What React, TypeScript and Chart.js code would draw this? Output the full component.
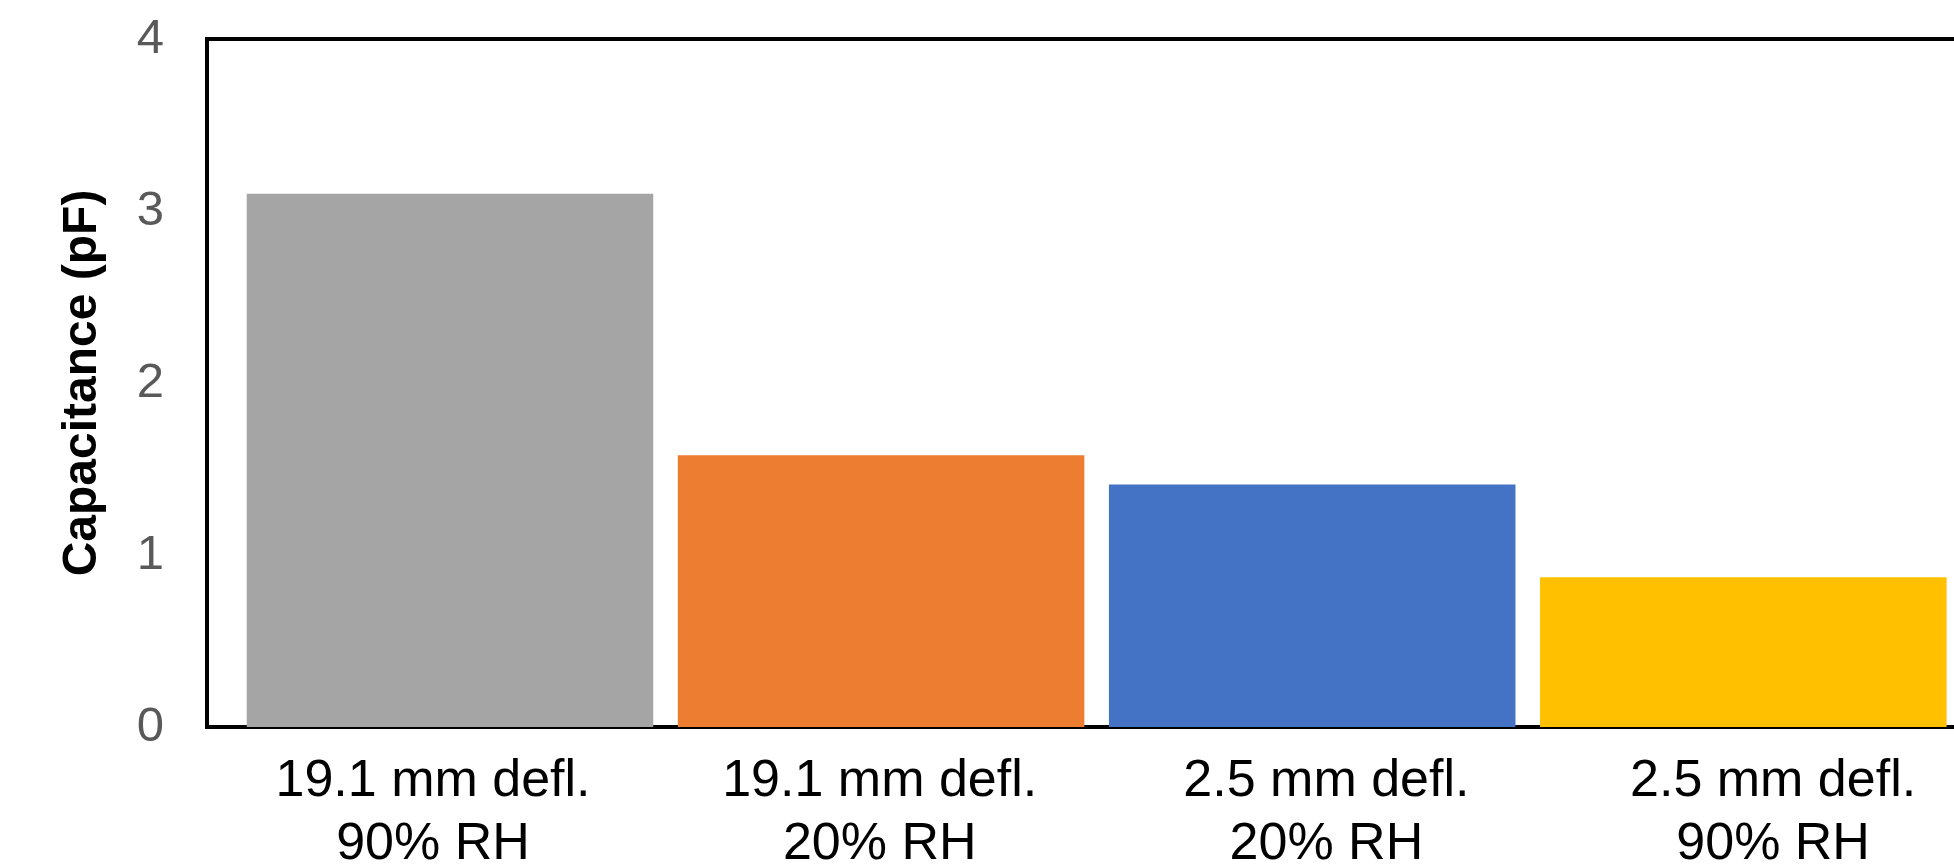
import React, { useEffect, useRef } from "react";
import { Chart, registerables } from "chart.js";

Chart.register(...registerables);

// Category labels (two lines each) and measured capacitance per condition
const categories: string[][] = [
  ["19.1 mm defl.", "90% RH"],
  ["19.1 mm defl.", "20% RH"],
  ["2.5 mm defl.", "20% RH"],
  ["2.5 mm defl.", "90% RH"],
];
const capacitance: number[] = [3.1, 1.58, 1.41, 0.87];
const barColors: string[] = ["#A5A5A5", "#ED7D31", "#4472C4", "#FFC000"];
const yTicks: number[] = [0, 1, 2, 3, 4];
const yTitle = "Capacitance (pF)";

const FONT = "'Liberation Sans', Arial, sans-serif";

// one tick per category index
const categoryTicks = (scale: any) => {
  scale.ticks = categories.map((_, i) => ({ value: i }));
};

export default function App() {
  const canvasRef = useRef<HTMLCanvasElement>(null);

  useEffect(() => {
    if (!canvasRef.current) return;
    const chart = new Chart(canvasRef.current, {
      type: "bar",
      data: {
        datasets: [
          {
            xAxisID: "xBars",
            data: capacitance.map((v, i) => ({ x: i, y: v })),
            backgroundColor: barColors,
            borderWidth: 0,
            categoryPercentage: 1,
            barPercentage: 0.943,
          },
        ],
      },
      options: {
        responsive: false,
        animation: false,
        devicePixelRatio: 1,
        layout: { padding: { left: 50, top: 39, right: 0, bottom: 0 } },
        plugins: {
          legend: { display: false },
          tooltip: { enabled: false },
        },
        scales: {
          // position scale of the bars (not drawn)
          xBars: {
            type: "linear",
            axis: "x",
            position: "bottom",
            display: false,
            offset: false,
            min: -0.5636,
            max: 3.6,
            grid: { offset: false },
            afterBuildTicks: categoryTicks,
          },
          // category label axis with the bottom frame line
          x: {
            type: "linear",
            axis: "x",
            position: "bottom",
            offset: false,
            min: -0.5059,
            max: 3.5124,
            grid: { display: false, drawTicks: false, offset: false },
            border: { display: true, color: "#000000", width: 4 },
            afterBuildTicks: categoryTicks,
            afterFit: (scale: any) => {
              scale.height = 149;
            },
            ticks: {
              autoSkip: false,
              maxRotation: 0,
              minRotation: 0,
              padding: 23,
              color: "#000000",
              font: { family: FONT, size: 52, lineHeight: 63 / 52 },
              callback: (value: any) => categories[Number(value)] ?? "",
            },
          },
          // top frame line of the plot area
          xTop: {
            type: "linear",
            axis: "x",
            position: "top",
            offset: false,
            grid: { display: false, drawTicks: false, offset: false },
            ticks: { display: false },
            border: { display: true, color: "#000000", width: 4 },
          },
          y: {
            type: "linear",
            position: "left",
            min: 0,
            max: 4,
            afterBuildTicks: (scale: any) => {
              scale.ticks = yTicks.map((v) => ({ value: v }));
            },
            afterFit: (scale: any) => {
              scale.width = 157;
              scale.paddingTop = 0;
              scale.paddingBottom = 0;
            },
            grid: { display: false, drawTicks: false },
            border: { display: true, color: "#000000", width: 4 },
            ticks: {
              padding: 43,
              color: "#595959",
              font: { family: FONT, size: 49 },
            },
            title: {
              display: true,
              text: yTitle,
              color: "#000000",
              font: { family: FONT, size: 48, weight: "bold" },
              padding: { top: 4, bottom: 0 },
            },
          },
        },
      } as any,
    });
    return () => chart.destroy();
  }, []);

  return (
    <div
      style={{
        position: "fixed",
        left: 0,
        top: 0,
        width: 1954,
        height: 864,
        overflow: "hidden",
        background: "#ffffff",
      }}
    >
      <canvas
        ref={canvasRef}
        width={2002}
        height={876}
        style={{ display: "block", width: 2002, height: 876 }}
      />
    </div>
  );
}
